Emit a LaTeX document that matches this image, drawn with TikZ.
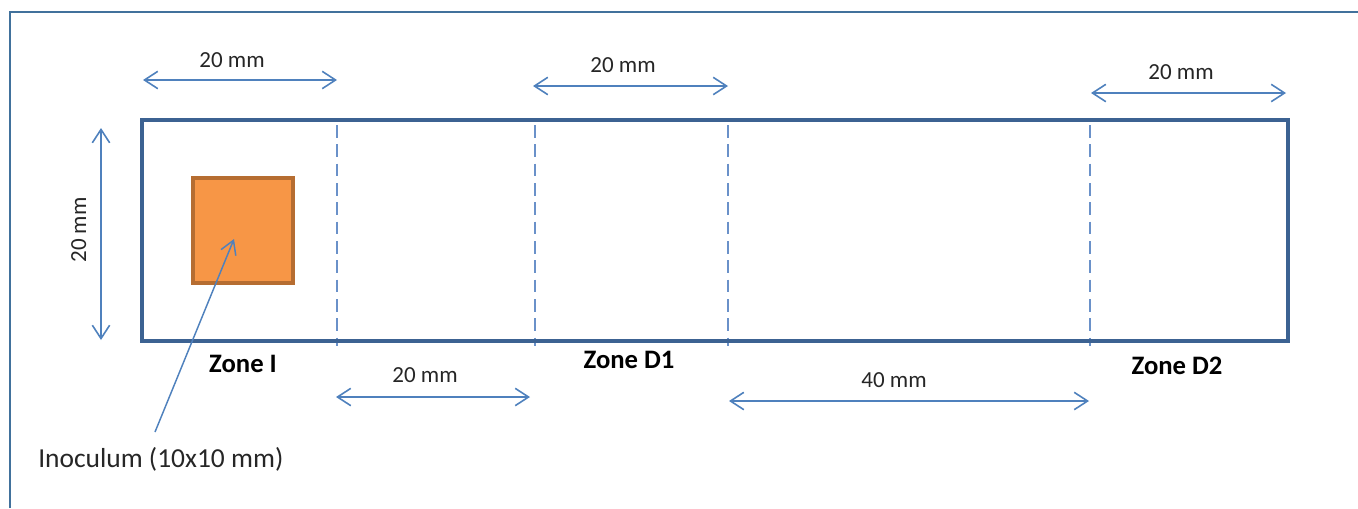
\documentclass[tikz,border=0pt]{standalone}
\usepackage{fontspec}
\setmainfont{Carlito}
\usetikzlibrary{arrows.meta}
\definecolor{framec}{HTML}{41719C}
\definecolor{rectc}{HTML}{3C6292}
\definecolor{dimc}{HTML}{4F81BD}
\definecolor{dashc}{HTML}{6A91C9}
\definecolor{orfill}{HTML}{F79646}
\definecolor{ordraw}{HTML}{B66D31}
\tikzset{
  dimarrow/.style={draw=dimc, line width=1.2pt, {Straight Barb[length=10pt,width=13pt,line width=1.2pt]}-{Straight Barb[length=10pt,width=13pt,line width=1.2pt]}},
  ptrarrow/.style={draw=dimc, line width=1.1pt, -{Straight Barb[length=10pt,width=12pt,line width=1.1pt]}},
  zonedash/.style={draw=dashc, line width=1.1pt, dash pattern=on 9.5pt off 5pt},
  dimlabel/.style={inner sep=0pt, anchor=base, font=\fontsize{17.25}{20}\selectfont, text=black!85},
  zonelabel/.style={inner sep=0pt, anchor=base, font=\fontsize{20}{24}\selectfont\bfseries},
  notelabel/.style={inner sep=0pt, anchor=base west, font=\fontsize{20.6}{24}\selectfont, text=black!85}
}
\begin{document}
\begin{tikzpicture}[x=0.75pt,y=-0.75pt]
\useasboundingbox (0,0) rectangle (1358,508);
% frame (top and left edges visible)
\draw[framec, line width=1.1pt] (10,508) -- (10,12) -- (1358,12);
% dashed zone separators
\foreach \xx/\nm in {337/da,535/db,728/dc,1090/dd} {
  \coordinate (\nm t) at (\xx,125);
  \coordinate (\nm b) at (\xx,346);
  \draw[zonedash] (\nm t) -- (\nm b);
}
% main strip
\node[draw=rectc, line width=3.4pt, line join=miter, outer sep=0pt, minimum width=1146*0.75pt, minimum height=221*0.75pt, inner sep=0pt, anchor=north west] (strip) at (142,120) {};
% inoculum square
\node[draw=ordraw, fill=orfill, line width=3pt, outer sep=0pt, minimum width=100*0.75pt, minimum height=105*0.75pt, inner sep=0pt, anchor=north west] (inoc) at (193,178) {};
% top dimension arrows
\coordinate (t1a) at (143,80);  \coordinate (t1b) at (337,80);
\coordinate (t2a) at (533,86);  \coordinate (t2b) at (728,86);
\coordinate (t3a) at (1091,93); \coordinate (t3b) at (1286,93);
\draw[dimarrow] (t1a) -- (t1b);
\draw[dimarrow] (t2a) -- (t2b);
\draw[dimarrow] (t3a) -- (t3b);
\node[dimlabel] (l1) at (232,67) {20 mm};
\node[dimlabel] (l2) at (623,72) {20 mm};
\node[dimlabel] (l3) at (1181,79) {20 mm};
% vertical dimension arrow
\coordinate (va) at (101,128); \coordinate (vb) at (101,340);
\draw[dimarrow] (va) -- (vb);
\node[dimlabel, rotate=90] (lv) at (86,230) {20 mm};
% bottom dimension arrows
\coordinate (b1a) at (336,397); \coordinate (b1b) at (530,397);
\coordinate (b2a) at (729,401); \coordinate (b2b) at (1089,401);
\draw[dimarrow] (b1a) -- (b1b);
\draw[dimarrow] (b2a) -- (b2b);
\node[dimlabel] (l4) at (425,382) {20 mm};
\node[dimlabel] (l5) at (894,387) {40 mm};
% zone labels
\node[zonelabel] (z1) at (243,372) {Zone I};
\node[zonelabel] (z2) at (629,368) {Zone D1};
\node[zonelabel] (z3) at (1177,374) {Zone D2};
% inoculum pointer
\node[notelabel] (note) at (38,467) {Inoculum (10x10 mm)};
\coordinate (ptrs) at (155,432);
\coordinate (ptre) at (234,239);
\draw[ptrarrow] (ptrs) -- (ptre);
\end{tikzpicture}
\end{document}
